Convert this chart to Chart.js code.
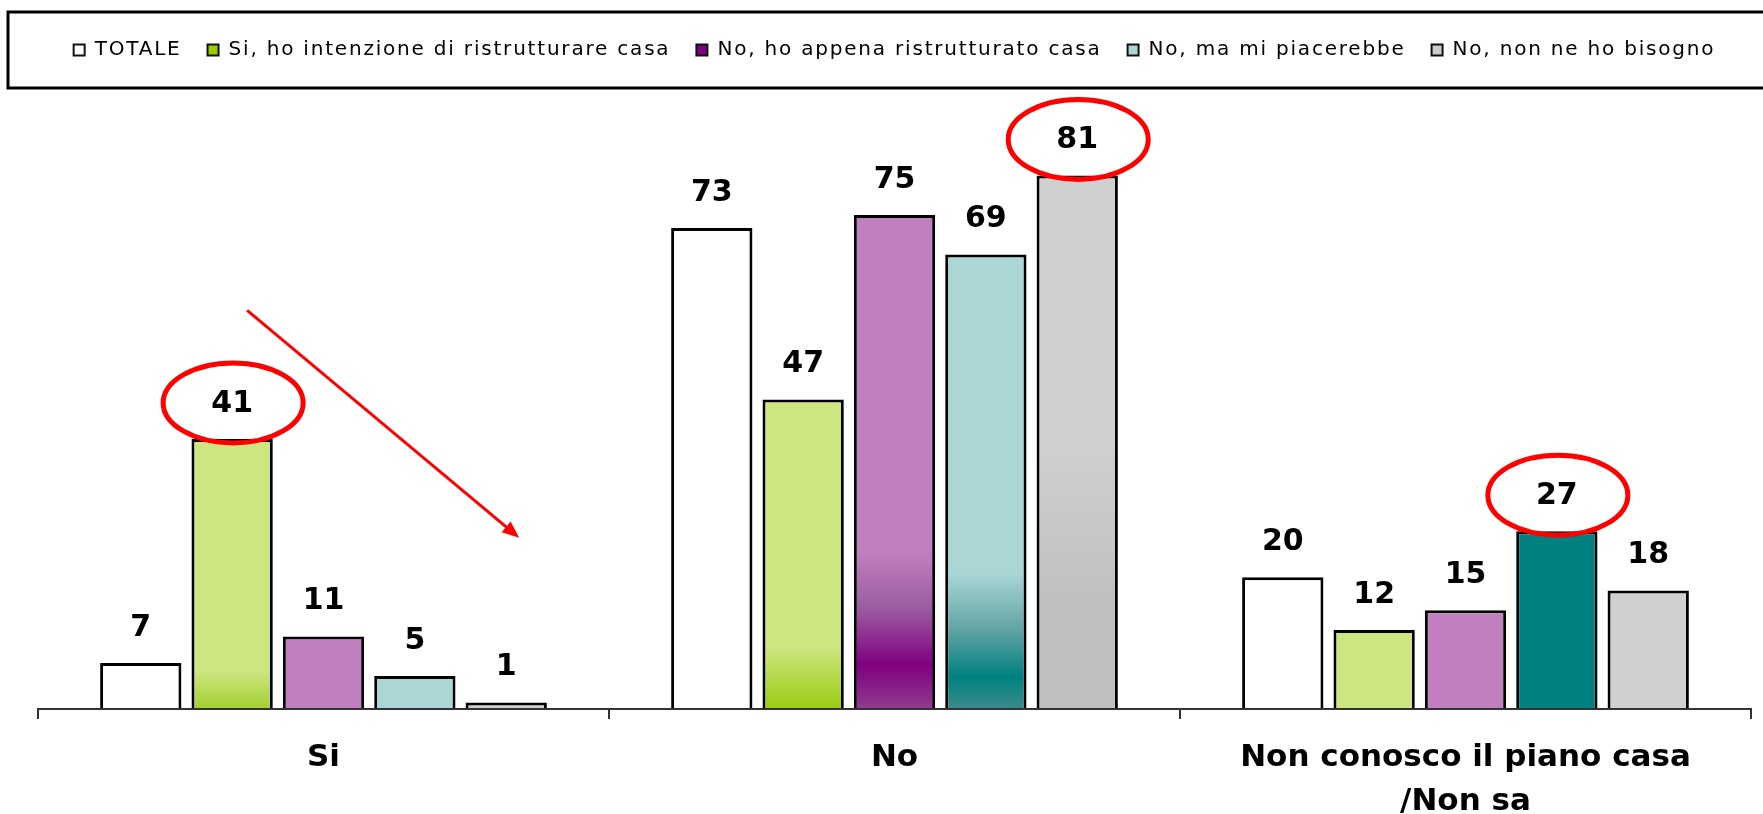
<!DOCTYPE html>
<html>
<head>
<meta charset="utf-8">
<script src="https://cdn.jsdelivr.net/npm/chart.js@4.4.1/dist/chart.umd.min.js"></script>
<style>
    html, body { margin: 0; padding: 0; background: #fff; }
</style>
</head>
<body>
<canvas id="myChart" width="1763" height="814"></canvas>
<script>
// DATI
const categories = ['Si', 'No', ['Non conosco il piano casa', '/Non sa']];
const seriesNames = [
    'TOTALE',
    'Si, ho intenzione di ristrutturare casa',
    'No, ho appena ristrutturato casa',
    'No, ma mi piacerebbe',
    'No, non ne ho bisogno'
];
const totale = [7, 73, 20];
const siIntenzione = [41, 47, 12];
const noAppena = [11, 75, 15];
const noPiacerebbe = [5, 69, 27];
const noBisogno = [1, 81, 18];

// cerchi rossi: [serie, categoria]
const highlights = [[1, 0], [4, 1], [3, 2]];

// COLORI
const barColors = [
    ['#ffffff', '#ffffff', '#ffffff'],
    ['#cde680', '#cde680', '#cde680'],
    ['#c080c0', '#c080c0', '#c080c0'],
    ['#aad6d6', '#aad6d6', '#008080'],
    ['#d0d0d0', '#d0d0d0', '#d0d0d0']
];
const legendColors = ['#ffffff', '#99cc00', '#800080', '#aad6d6', '#cccccc'];

// sfumature (0 = cima della barra, 1 = base)
const gradients = {
    '1-0': [[0, '#cde680'], [0.86, '#cde680'], [1, '#a2d030']],
    '1-1': [[0, '#cde680'], [0.80, '#cde680'], [1, '#99cc11']],
    '2-1': [[0, '#c080c0'], [0.68, '#c080c0'], [0.80, '#9a5aa0'], [0.91, '#800080'], [1, '#8e3c8e']],
    '3-1': [[0, '#aad6d6'], [0.70, '#aad6d6'], [0.82, '#66a6a6'], [0.93, '#008080'], [1, '#3a8c8c']],
    '4-1': [[0, '#d0d0d0'], [0.50, '#d0d0d0'], [0.80, '#c0c0c0'], [1, '#c0c0c0']]
};

const FONT = 'DejaVu Sans';
const LEGEND_SPACING = '1.8px';

function barFill(ctx, s)
{
    const flat = barColors[s][ctx.dataIndex];
    const stops = gradients[s + '-' + ctx.dataIndex];
    const chart = ctx.chart;
    if (!stops || !chart.chartArea || ctx.raw === undefined) return flat;
    const y = chart.scales.y;
    const top = y.getPixelForValue(ctx.raw);
    const base = y.getPixelForValue(0);
    const g = chart.ctx.createLinearGradient(0, top, 0, base);
    stops.forEach(st => g.addColorStop(st[0], st[1]));
    return g;
}

const seriesData = [totale, siIntenzione, noAppena, noPiacerebbe, noBisogno];

// etichette valori + cerchi + freccia
const annotationsPlugin = {
    id: 'annotations',
    beforeLayout(chart) {
        chart.ctx.letterSpacing = LEGEND_SPACING;
    },
    afterLayout(chart) {
        chart.ctx.letterSpacing = '0px';
    },
    beforeDraw(chart) {
        // la legenda viene disegnata prima delle barre
        chart.ctx.letterSpacing = LEGEND_SPACING;
    },
    beforeDatasetsDraw(chart) {
        chart.ctx.letterSpacing = '0px';
    },
    afterDatasetsDraw(chart) {
        const ctx = chart.ctx;
        ctx.save();
        ctx.fillStyle = '#000';
        ctx.font = 'bold 30px "' + FONT + '"';
        ctx.textAlign = 'center';
        ctx.textBaseline = 'middle';
        chart.data.datasets.forEach((ds, s) => {
            chart.getDatasetMeta(s).data.forEach((el, i) => {
                ctx.fillText(ds.data[i], el.x, el.y - 35);
            });
        });

        ctx.strokeStyle = '#ff0000';
        ctx.lineWidth = 5;
        highlights.forEach(h => {
            const el = chart.getDatasetMeta(h[0]).data[h[1]];
            ctx.beginPath();
            ctx.ellipse(el.x + 1, el.y - 36, 70, 40, 0, 0, Math.PI * 2);
            ctx.stroke();
        });

        // freccia sul gruppo "Si"
        const y = chart.scales.y;
        const from = chart.getDatasetMeta(1).data[0];
        const to = chart.getDatasetMeta(4).data[0];
        const x1 = from.x + 15, y1 = y.getPixelForValue(60.5);
        const x2 = to.x + 13, y2 = y.getPixelForValue(26);
        const ang = Math.atan2(y2 - y1, x2 - x1);
        ctx.fillStyle = '#ff0000';
        ctx.lineWidth = 3;
        ctx.beginPath();
        ctx.moveTo(x1, y1);
        ctx.lineTo(x2 - 12 * Math.cos(ang), y2 - 12 * Math.sin(ang));
        ctx.stroke();
        ctx.beginPath();
        ctx.moveTo(x2, y2);
        ctx.lineTo(x2 - 17 * Math.cos(ang) + 7 * Math.sin(ang), y2 - 17 * Math.sin(ang) - 7 * Math.cos(ang));
        ctx.lineTo(x2 - 17 * Math.cos(ang) - 7 * Math.sin(ang), y2 - 17 * Math.sin(ang) + 7 * Math.cos(ang));
        ctx.closePath();
        ctx.fill();
        ctx.restore();
    },
    afterDraw(chart) {
        // cornice della legenda
        const ctx = chart.ctx;
        ctx.save();
        ctx.strokeStyle = '#000';
        ctx.lineWidth = 3;
        ctx.strokeRect(8, 12, chart.width + 20, 76);
        ctx.restore();
    }
};

const myChart = new Chart(document.getElementById('myChart').getContext('2d'), {
    type: 'bar',
    data: {
        labels: categories,
        datasets: seriesData.map((d, s) => ({
            label: seriesNames[s],
            data: d,
            backgroundColor: ctx => barFill(ctx, s),
            borderColor: '#000',
            borderWidth: 3,
            categoryPercentage: 0.8,
            barPercentage: 0.89
        }))
    },
    options: {
        responsive: false,
        animation: false,
        devicePixelRatio: 1,
        layout: { padding: { left: 38, right: 12, top: 14, bottom: 0 } },
        plugins: {
            tooltip: { enabled: false },
            legend: {
                position: 'top',
                labels: {
                    color: '#000',
                    font: { family: FONT, size: 20 },
                    boxWidth: 11,
                    boxHeight: 11,
                    padding: 26,
                    generateLabels: chart => chart.data.datasets.map((ds, i) => ({
                        text: ds.label,
                        fillStyle: legendColors[i],
                        strokeStyle: '#111',
                        lineWidth: 2,
                        datasetIndex: i
                    }))
                }
            }
        },
        scales: {
            x: {
                border: { display: true, color: '#333', width: 2, z: 1 },
                grid: {
                    display: true, drawOnChartArea: false, drawTicks: true,
                    tickLength: 10, offset: true, color: '#333', lineWidth: 2, z: 1
                },
                ticks: {
                    z: 1,
                    color: '#000',
                    font: { family: FONT, size: 31, weight: 'bold', lineHeight: 1.45 },
                    padding: 16,
                    maxRotation: 0,
                    autoSkip: false
                },
                afterFit: scale => { scale.height = 105; }
            },
            y: { display: false, min: 0, max: 97 }
        }
    },
    plugins: [annotationsPlugin]
});
</script>
</body>
</html>
